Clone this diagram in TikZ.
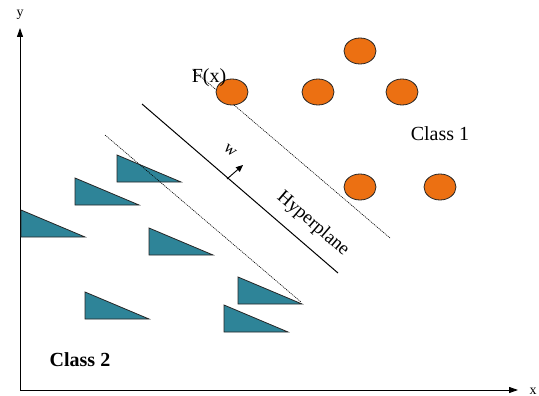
\documentclass[tikz,border=0pt]{standalone}
\usepackage{fontspec}
\setmainfont{Liberation Serif}
\usetikzlibrary{arrows.meta,shapes.geometric}
\definecolor{classone}{RGB}{236,112,18}
\definecolor{classtwo}{RGB}{46,132,152}
\tikzset{
  axis/.style={line width=0.9pt,-{Triangle[length=9pt,width=6pt]}},
  margin/.style={line width=0.6pt,dash pattern=on 1.1pt off 0.9pt,black},
  hyper/.style={line width=1pt},
  pt1/.style={ellipse,draw=black!85,line width=0.8pt,fill=classone,minimum width=32pt,minimum height=26pt,inner sep=0pt},
  pt2/.style={draw=black!85,line width=0.8pt,fill=classtwo},
  lbl/.style={font=\fontsize{20}{24}\selectfont,inner sep=0pt},
  axlbl/.style={font=\fontsize{14}{16}\selectfont,inner sep=0pt}
}
\begin{document}
\begin{tikzpicture}[x=1pt,y=-1pt]
\useasboundingbox (0,0) rectangle (539,396);

% axes
\coordinate (O) at (20,390);
\coordinate (ytip) at (20,28);
\coordinate (xtip) at (518,390);
\draw[axis] (O) -- (ytip);
\draw[axis] (O) -- (xtip);
\node[axlbl] (ylab) at (20,15) {y};
\node[axlbl] (xlab) at (533,391) {x};

% class 2 triangles
\foreach \px/\py [count=\i] in {117/155, 75/178, 21/210, 149/228, 85/292, 238/277, 224/305}{
  \coordinate (t\i) at (\px,\py);
  \draw[pt2] (t\i) -- ++(0,27) -- ++(64,0) -- cycle;
}

% margins and separating hyperplane
\coordinate (m1a) at (193,70);
\coordinate (m1b) at (390,238);
\coordinate (m2a) at (105,135);
\coordinate (m2b) at (301,302);
\coordinate (ha) at (142,104);
\coordinate (hb) at (338,273);
\draw[margin] (m1a) -- (m1b);
\draw[margin] (m2a) -- (m2b);
\draw[hyper] (ha) -- (hb);

% normal vector
\coordinate (wa) at (227,179);
\coordinate (wb) at (243,165);
\draw[line width=0.9pt,-{Triangle[length=7pt,width=6pt]}] (wa) -- (wb);
\node[lbl,font=\fontsize{17}{20}\selectfont,rotate=-40] (wlab) at (230,151) {w};
\node[lbl,font=\fontsize{19}{22}\selectfont,rotate=-40.8] (hlab) at (313,224) {Hyperplane};

% class 1 points
\node[pt1] (c1) at (360,51) {};
\node[pt1] (c2) at (232,92) {};
\node[pt1] (c3) at (318,92) {};
\node[pt1] (c4) at (402,92) {};
\node[pt1] (c5) at (360,187) {};
\node[pt1] (c6) at (440,187) {};

% labels
\node[lbl] (fx) at (209,78) {F(x)};
\node[lbl] (cl1) at (440,134) {Class 1};
\node[lbl,font=\fontsize{20}{24}\selectfont\bfseries] (cl2) at (80,360) {Class 2};
\end{tikzpicture}
\end{document}
